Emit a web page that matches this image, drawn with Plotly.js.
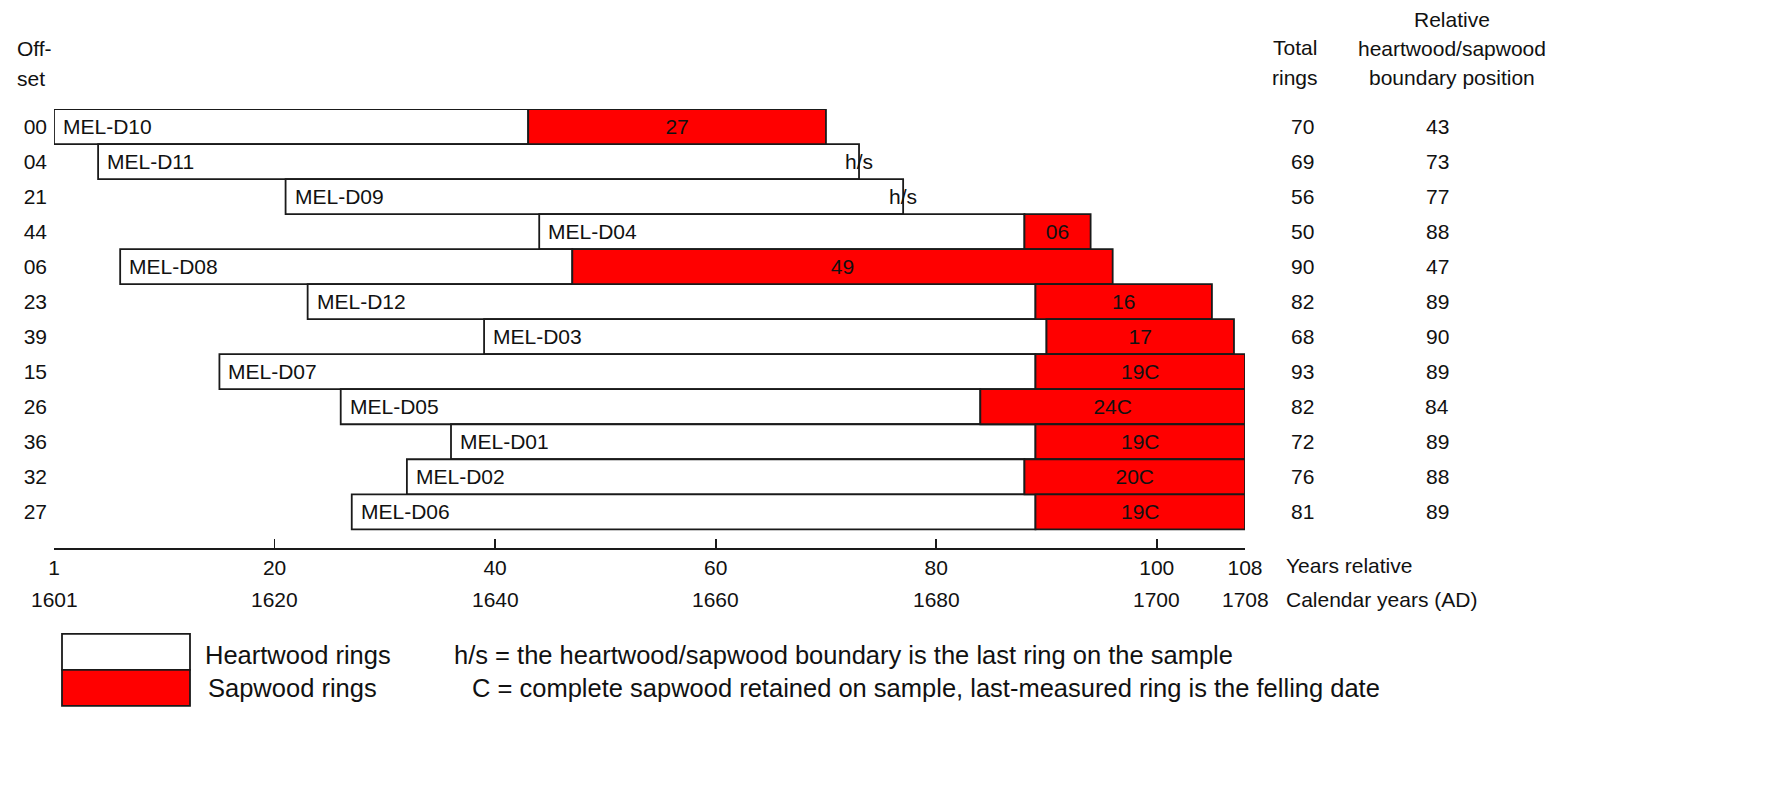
<!DOCTYPE html>
<html>
<head>
<meta charset="utf-8">
<script src="https://cdn.plot.ly/plotly-3.0.1.min.js"></script>
<style>
  html, body { margin: 0; padding: 0; background: #ffffff; }
  #chart { width: 1792px; height: 806px; }
</style>
</head>
<body>
<div id="chart"></div>
<script>
// ---- data ----
const samples = ['MEL-D10','MEL-D11','MEL-D09','MEL-D04','MEL-D08','MEL-D12','MEL-D03','MEL-D07','MEL-D05','MEL-D01','MEL-D02','MEL-D06'];
const offsetLabels = ['00','04','21','44','06','23','39','15','26','36','32','27'];
const offsets = [0, 4, 21, 44, 6, 23, 39, 15, 26, 36, 32, 27];
const totalRings = [70, 69, 56, 50, 90, 82, 68, 93, 82, 72, 76, 81];
const boundary = [43, 73, 77, 88, 47, 89, 90, 89, 84, 89, 88, 89];
const sapwoodLabels = ['27', 'h/s', 'h/s', '06', '49', '16', '17', '19C', '24C', '19C', '20C', '19C'];
const tickVals = [0, 20, 40, 60, 80, 100, 108];
const relYearLabels = ['1', '20', '40', '60', '80', '100', '108'];
const calYearLabels = ['1601', '1620', '1640', '1660', '1680', '1700', '1708'];

// ---- layout geometry (pixels) ----
const W = 1792, H = 806;
const L = 54, R = 1245, T = 108.5, B = 548;
const pw = R - L, ph = B - T;
const px = p => (p - L) / pw;       // pixel x -> paper x
const py = p => (B - p) / ph;       // pixel y -> paper y
const FONT = '"Liberation Sans", Arial, sans-serif';
const TXT = '#111111';
const FS = 21;   // chart text size
const LF = 25.5; // legend text size

const rows = samples.map((_, i) => i);
const ends = offsets.map((o, i) => o + totalRings[i]);
const heartLen = boundary.map((b, i) => b - offsets[i]);
const sapLen = ends.map((e, i) => (e - boundary[i]) > 0 ? e - boundary[i] : null);
const sapText = sapwoodLabels.map(s => s === 'h/s' ? '' : s);

const heart = {
  type: 'bar', orientation: 'h', name: 'Heartwood rings',
  y: rows, x: heartLen, base: offsets, width: 1,
  marker: { color: '#ffffff', line: { color: '#1a1a1a', width: 1.8 } },
  hoverinfo: 'skip', showlegend: false
};
const sap = {
  type: 'bar', orientation: 'h', name: 'Sapwood rings',
  y: rows, x: sapLen, base: boundary, width: 1,
  marker: { color: '#ff0000', line: { color: '#1a1a1a', width: 1.8 } },
  text: sapText, textposition: 'inside', insidetextanchor: 'middle',
  textfont: { family: FONT, size: FS, color: '#111111' },
  constraintext: 'none',
  hoverinfo: 'skip', showlegend: false
};

const ann = [];
const A = (o) => Object.assign({ showarrow: false, font: { family: FONT, size: FS, color: TXT } }, o);
const LFont = { family: FONT, size: LF, color: TXT };

// sample names inside heartwood, h/s marks, right-hand columns
samples.forEach((s, i) => {
  ann.push(A({ x: offsets[i], y: i, xref: 'x', yref: 'y', text: s, xanchor: 'left', yanchor: 'middle', xshift: 7 }));
  if (sapwoodLabels[i] === 'h/s') {
    ann.push(A({ x: ends[i], y: i, xref: 'x', yref: 'y', text: 'h/s', xanchor: 'center', yanchor: 'middle' }));
  }
  ann.push(A({ x: px(1303), y: i, xref: 'paper', yref: 'y', text: String(totalRings[i]), xanchor: 'center', yanchor: 'middle' }));
  ann.push(A({ x: px(1437), y: i, xref: 'paper', yref: 'y', text: String(boundary[i]), xanchor: 'center', yanchor: 'middle' }));
});

// headers
ann.push(A({ x: px(15), y: py(48), xref: 'paper', yref: 'paper', text: 'Off-', xanchor: 'left', yanchor: 'middle' }));
ann.push(A({ x: px(15), y: py(78), xref: 'paper', yref: 'paper', text: 'set', xanchor: 'left', yanchor: 'middle' }));
ann.push(A({ x: px(1295), y: py(47), xref: 'paper', yref: 'paper', text: 'Total', xanchor: 'center', yanchor: 'middle' }));
ann.push(A({ x: px(1295), y: py(77), xref: 'paper', yref: 'paper', text: 'rings', xanchor: 'center', yanchor: 'middle' }));
ann.push(A({ x: px(1452), y: py(19), xref: 'paper', yref: 'paper', text: 'Relative', xanchor: 'center', yanchor: 'middle' }));
ann.push(A({ x: px(1452), y: py(48), xref: 'paper', yref: 'paper', text: 'heartwood/sapwood', xanchor: 'center', yanchor: 'middle' }));
ann.push(A({ x: px(1452), y: py(77), xref: 'paper', yref: 'paper', text: 'boundary position', xanchor: 'center', yanchor: 'middle' }));

// calendar years row
tickVals.forEach((v, i) => {
  ann.push(A({ x: v, y: py(600), xref: 'x', yref: 'paper', text: calYearLabels[i], xanchor: 'center', yanchor: 'middle' }));
});
ann.push(A({ x: px(1284), y: py(566), xref: 'paper', yref: 'paper', text: 'Years relative', xanchor: 'left', yanchor: 'middle' }));
ann.push(A({ x: px(1284), y: py(600), xref: 'paper', yref: 'paper', text: 'Calendar years (AD)', xanchor: 'left', yanchor: 'middle' }));

// legend texts
ann.push(A({ x: px(203), y: py(655), xref: 'paper', yref: 'paper', text: 'Heartwood rings', xanchor: 'left', yanchor: 'middle', font: LFont }));
ann.push(A({ x: px(206), y: py(688), xref: 'paper', yref: 'paper', text: 'Sapwood rings', xanchor: 'left', yanchor: 'middle', font: LFont }));
ann.push(A({ x: px(452), y: py(655), xref: 'paper', yref: 'paper', text: 'h/s = the heartwood/sapwood boundary is the last ring on the sample', xanchor: 'left', yanchor: 'middle', font: LFont }));
ann.push(A({ x: px(470), y: py(688), xref: 'paper', yref: 'paper', text: 'C = complete sapwood retained on sample, last-measured ring is the felling date', xanchor: 'left', yanchor: 'middle', font: LFont }));

const shapes = [
  { type: 'rect', xref: 'paper', yref: 'paper', x0: px(62), x1: px(190), y0: py(634), y1: py(670), fillcolor: '#ffffff', line: { color: '#1a1a1a', width: 1.8 } },
  { type: 'rect', xref: 'paper', yref: 'paper', x0: px(62), x1: px(190), y0: py(670), y1: py(706), fillcolor: '#ff0000', line: { color: '#1a1a1a', width: 1.8 } }
];

const layout = {
  width: W, height: H,
  margin: { l: L, r: W - R, t: T, b: H - B, pad: 0 },
  paper_bgcolor: '#ffffff', plot_bgcolor: '#ffffff',
  barmode: 'overlay',
  showlegend: false,
  font: { family: FONT, size: FS, color: TXT },
  xaxis: {
    range: [0, 108], showgrid: false, zeroline: false,
    showline: true, linecolor: '#1a1a1a', linewidth: 1.8,
    ticks: 'inside', ticklen: 9, tickwidth: 1.8, tickcolor: '#1a1a1a',
    tickmode: 'array', tickvals: tickVals, ticktext: relYearLabels,
    tickfont: { family: FONT, size: FS, color: TXT },
    fixedrange: true
  },
  yaxis: {
    range: [11.5 + (B - 529.3) / 35.07, -0.5],
    showgrid: false, zeroline: false, showline: false, ticks: '',
    tickmode: 'array', tickvals: rows, ticktext: offsetLabels,
    tickfont: { family: FONT, size: FS, color: TXT },
    ticklabelstandoff: 6,
    fixedrange: true
  },
  annotations: ann,
  shapes: shapes
};

Plotly.newPlot('chart', [heart, sap], layout, { staticPlot: true, displayModeBar: false });
</script>
</body>
</html>
